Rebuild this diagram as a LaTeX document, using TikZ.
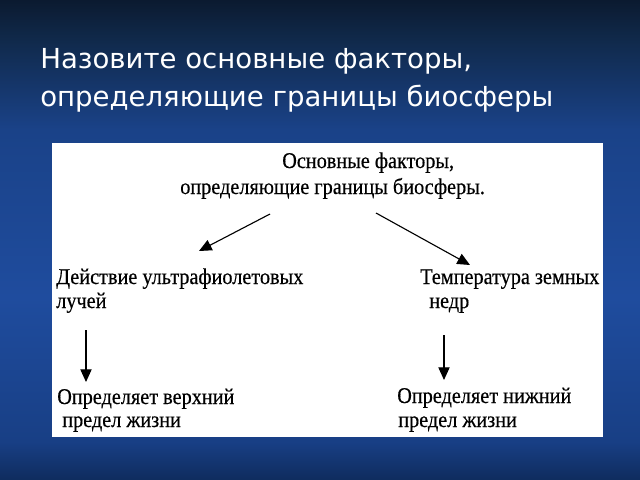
\documentclass[tikz,border=0pt]{standalone}
\usepackage{fontspec}
\setmainfont{Liberation Serif}
\newfontfamily\titlefont{DejaVu Sans}
\newfontfamily\bodyfont[FakeStretch=0.9,FakeBold=0.4]{Liberation Serif}
\usetikzlibrary{arrows.meta}
\definecolor{bgA}{HTML}{0B1A30}
\definecolor{bgB}{HTML}{10294A}
\definecolor{bgC}{HTML}{1A4288}
\definecolor{bgD}{HTML}{1F4C9E}
\definecolor{bgE}{HTML}{183F85}
\definecolor{bgF}{HTML}{0F2C5E}
\pgfdeclareverticalshading{bgshade}{100bp}{color(0bp)=(bgF); color(25bp)=(bgF); color(29bp)=(bgE); color(44bp)=(bgD); color(61.5bp)=(bgC); color(71bp)=(bgB); color(75bp)=(bgA); color(100bp)=(bgA)}
\tikzset{
  title/.style={anchor=base west, inner sep=0pt, text=white, font=\titlefont\fontsize{19.6}{24}\selectfont},
  body/.style={anchor=base west, inner sep=0pt, text=black, font=\bodyfont\fontsize{16}{19}\selectfont},
  conn/.style={draw=black, line width=0.8pt, -{Triangle[length=9pt,width=8pt]}},
}
\begin{document}
\begin{tikzpicture}[x=0.025cm,y=-0.025cm]
\useasboundingbox (0,0) rectangle (640,480);
\shade[shading=bgshade] (0,0) rectangle (640,480);
\fill[white] (52,143) rectangle (603,437);
\node[title] (t1) at (40,68) {Назовите основные факторы,};
\node[title] (t2) at (40,106) {определяющие границы биосферы};
\node[body] (m1) at (282,168) {Основные факторы,};
\node[body] (m2) at (180,194) {определяющие границы биосферы.};
\node[body] (l1) at (56,284) {Действие ультрафиолетовых};
\node[body] (l2) at (56,308) {лучей};
\node[body] (r1) at (420,284) {Температура земных};
\node[body] (r2) at (429,308) {недр};
\node[body] (lb1) at (57,404) {Определяет верхний};
\node[body] (lb2) at (62,427) {предел жизни};
\node[body] (rb1) at (397,403) {Определяет нижний};
\node[body] (rb2) at (398,427) {предел жизни};
\coordinate (aLs) at (270,214); \coordinate (aLe) at (199,251);
\coordinate (aRs) at (376,213); \coordinate (aRe) at (470,265);
\coordinate (dLs) at (86,330); \coordinate (dLe) at (86,382);
\coordinate (dRs) at (444,335); \coordinate (dRe) at (444,380);
\draw[conn] (aLs) -- (aLe);
\draw[conn] (aRs) -- (aRe);
\draw[conn] (dLs) -- (dLe);
\draw[conn] (dRs) -- (dRe);
\end{tikzpicture}
\end{document}
